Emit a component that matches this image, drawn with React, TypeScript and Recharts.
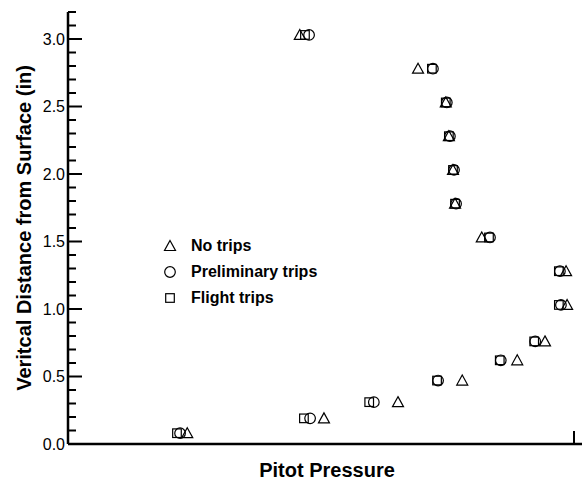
import React from 'react';
import { ScatterChart, Scatter, XAxis, YAxis, Legend } from 'recharts';

// Pitot pressure has no tick labels; x is in % of axis span
const heightsNoTrips = [3.03, 2.78, 2.53, 2.28, 2.03, 1.78, 1.53, 1.28, 1.03, 0.76, 0.62, 0.47, 0.31, 0.19, 0.08];
const pressureNoTrips = [45.1, 68.1, 73.5, 74.1, 74.9, 75.3, 80.5, 96.9, 97.1, 92.8, 87.4, 76.7, 64.2, 49.8, 23.2];

const heightsPrelim = [3.03, 2.78, 2.53, 2.28, 2.03, 1.78, 1.53, 1.28, 1.03, 0.76, 0.62, 0.47, 0.31, 0.19, 0.08];
const pressurePrelim = [46.9, 71.0, 73.7, 74.3, 75.1, 75.5, 82.1, 95.7, 95.9, 90.9, 84.2, 72.0, 59.5, 47.1, 21.8];

const heightsFlight = [3.03, 2.78, 2.53, 2.28, 2.03, 1.78, 1.53, 1.28, 1.03, 0.76, 0.62, 0.47, 0.31, 0.19, 0.08];
const pressureFlight = [46.1, 70.8, 73.5, 74.1, 74.9, 75.3, 81.9, 95.5, 95.5, 90.7, 84.0, 71.8, 58.6, 45.9, 21.2];

const yTicks = [0, 0.1, 0.2, 0.3, 0.4, 0.5, 0.6, 0.7, 0.8, 0.9, 1.0, 1.1, 1.2, 1.3, 1.4, 1.5, 1.6, 1.7, 1.8, 1.9, 2.0, 2.1, 2.2, 2.3, 2.4, 2.5, 2.6, 2.7, 2.8, 2.9, 3.0, 3.1, 3.2];
const xTicks = [0, 100];

const FONT = '"Liberation Sans", Arial, sans-serif';

const zip = (xs: number[], ys: number[]) => xs.map((x, i) => ({ x, y: ys[i] }));
const dNo = zip(pressureNoTrips, heightsNoTrips);
const dPre = zip(pressurePrelim, heightsPrelim);
const dFl = zip(pressureFlight, heightsFlight);

const Tri = ({ cx, cy }: any) => (
  <polygon points={`${cx},${cy - 5.5} ${cx + 5.5},${cy + 4.5} ${cx - 5.5},${cy + 4.5}`} fill="none" stroke="#000" strokeWidth={1.2} />
);
const Circ = ({ cx, cy }: any) => <circle cx={cx} cy={cy} r={5.3} fill="none" stroke="#000" strokeWidth={1.2} />;
const Sq = ({ cx, cy }: any) => <rect x={cx - 4.3} y={cy - 4.3} width={8.6} height={8.6} fill="none" stroke="#000" strokeWidth={1.2} />;

const YTick = (props: any) => {
  const { x, y, payload } = props;
  const v = payload.value as number;
  const major = Math.abs(v * 2 - Math.round(v * 2)) < 1e-6;
  return (
    <g>
      <line x1={x} x2={x + (major ? 14 : 8)} y1={y} y2={y} stroke="#000" strokeWidth={2} />
      {major && (
        <text x={x - 3} y={y} dy="0.36em" textAnchor="end" fontSize={16} fontFamily={FONT} fill="#000">
          {v.toFixed(1)}
        </text>
      )}
    </g>
  );
};

const XTick = (props: any) => {
  const { x, y } = props;
  return <line x1={x} x2={x} y1={y} y2={y - 13} stroke="#000" strokeWidth={2} />;
};

const legendItems = [
  { name: 'No trips', Icon: Tri },
  { name: 'Preliminary trips', Icon: Circ },
  { name: 'Flight trips', Icon: Sq },
];

const LegendContent = () => (
  <div style={{ fontFamily: FONT }}>
    {legendItems.map(({ name, Icon }) => (
      <div key={name} style={{ display: 'flex', alignItems: 'center', height: 26 }}>
        <svg width={20} height={20} style={{ marginRight: 11 }}>
          <Icon cx={10} cy={10} />
        </svg>
        <span style={{ fontSize: 16, fontWeight: 'bold', color: '#000' }}>{name}</span>
      </div>
    ))}
  </div>
);

export default function App() {
  return (
    <div style={{ position: 'absolute', left: 0, top: 0, background: '#fff' }}>
      <ScatterChart width={586} height={481} margin={{ top: 12, right: 4, bottom: 0, left: 20 }}>
        <XAxis
          type="number"
          dataKey="x"
          domain={[0, 100]}
          ticks={xTicks}
          tick={<XTick />}
          tickLine={false}
          tickSize={0}
          tickMargin={0}
          height={37}
          axisLine={{ stroke: '#000', strokeWidth: 2.5 }}
          allowDataOverflow
          label={{
            content: ({ viewBox }: any) => (
              <text x={viewBox.x + viewBox.width / 2 + 2} y={477} textAnchor="middle" fontSize={20} fontWeight="bold" fontFamily={FONT} fill="#000">
                Pitot Pressure
              </text>
            ),
          }}
        />
        <YAxis
          type="number"
          dataKey="y"
          domain={[0, 3.2]}
          ticks={yTicks}
          interval={0}
          tick={<YTick />}
          tickLine={false}
          tickSize={0}
          tickMargin={0}
          width={48}
          axisLine={{ stroke: '#000', strokeWidth: 2.5 }}
          allowDataOverflow
          label={{
            content: ({ viewBox }: any) => {
              const cx = 24;
              const cy = viewBox.y + viewBox.height / 2;
              return (
                <text x={cx} y={cy} transform={`rotate(-90 ${cx} ${cy})`} dy="0.36em" textAnchor="middle" fontSize={20} fontWeight="bold" fontFamily={FONT} fill="#000">
                  Veritcal Distance from Surface (in)
                </text>
              );
            },
          }}
        />
        <Legend
          layout="vertical"
          align="center"
          verticalAlign="middle"
          content={<LegendContent />}
          wrapperStyle={{ position: 'absolute', left: 160, top: 233, width: 200 }}
        />
        <Scatter name="No trips" data={dNo} shape={<Tri />} isAnimationActive={false} />
        <Scatter name="Preliminary trips" data={dPre} shape={<Circ />} isAnimationActive={false} />
        <Scatter name="Flight trips" data={dFl} shape={<Sq />} isAnimationActive={false} />
      </ScatterChart>
    </div>
  );
}
